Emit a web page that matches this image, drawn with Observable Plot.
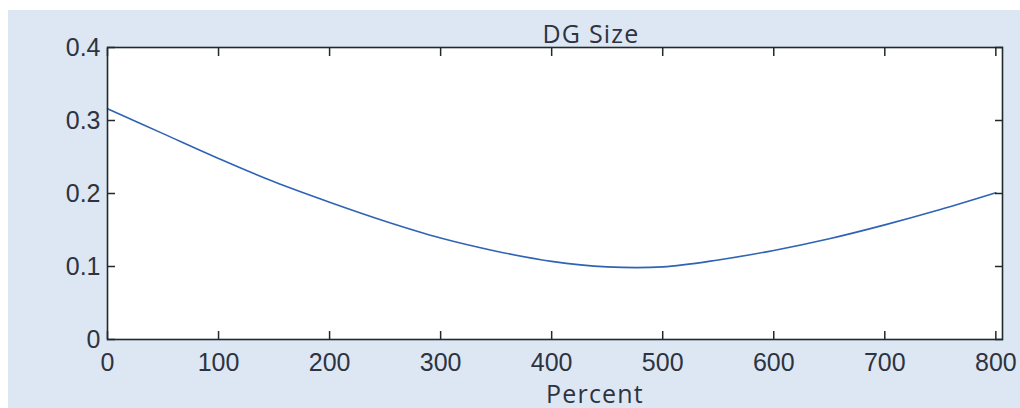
<!DOCTYPE html>
<html><head><meta charset="utf-8">
<script src="https://cdn.jsdelivr.net/npm/d3@7"></script>
<script src="https://cdn.jsdelivr.net/npm/@observablehq/plot@0.6"></script>
<style>
html,body{margin:0;padding:0;background:#fff;}
#chart svg{display:block;}
g.lbl text{letter-spacing:1.2px;}
</style></head><body><div id="chart"></div>
<script>
const percent = [0, 50, 100, 150, 200, 250, 300, 350, 400, 450, 500, 550, 600, 650, 700, 750, 800];
const dgSize  = [0.316, 0.282, 0.248, 0.216, 0.188, 0.162, 0.139, 0.121, 0.107, 0.0995, 0.0995, 0.109, 0.122, 0.138, 0.157, 0.178, 0.201];
const xTicks = [0, 100, 200, 300, 400, 500, 600, 700, 800];
const xTickLabels = ["0", "100", "200", "300", "400", "500", "600", "700", "800"];
const yTicks = [0, 0.1, 0.2, 0.3, 0.4];
const yTickLabels = ["0", "0.1", "0.2", "0.3", "0.4"];
const titleText = ["DG Size"];
const xLabelText = ["Percent"];

const data = percent.map((p, i) => ({percent: p, size: dgSize[i]}));
const ink = "#1f2a2c";
const txt = "#2e3340";

const chart = Plot.plot({
  width: 1020,
  height: 408,
  marginLeft: 107,
  marginRight: 18,
  marginTop: 47,
  marginBottom: 69,
  style: {
    background: "linear-gradient(#fff,#fff) top left/100% 10px no-repeat, linear-gradient(#fff,#fff) top left/8px 100% no-repeat, #dde7f3",
    fontFamily: "'Liberation Sans', Arial, sans-serif",
    fontSize: "25px",
    color: txt
  },
  x: {domain: [0, 806], axis: null},
  y: {domain: [0, 0.4], axis: null},
  marks: [
    Plot.frame({fill: "white", stroke: null}),
    Plot.line(data, {x: "percent", y: "size", stroke: "#2f63b6", strokeWidth: 1.6, curve: "catmull-rom"}),
    Plot.axisX({anchor: "bottom", ticks: xTicks, tickSize: -8, tickPadding: 22, stroke: ink, strokeWidth: 1.5, fill: txt, fontSize: 25,
      tickFormat: d => xTickLabels[xTicks.indexOf(d)], label: null}),
    Plot.axisX({anchor: "top", ticks: xTicks, tickSize: -8, stroke: ink, strokeWidth: 1.5, fill: "none", label: null}),
    Plot.axisY({anchor: "left", ticks: yTicks, tickSize: -8, tickPadding: 15, stroke: ink, strokeWidth: 1.5, fill: txt, fontSize: 25,
      tickFormat: d => yTickLabels[yTicks.findIndex(t => Math.abs(t - d) < 1e-9)], label: null}),
    Plot.axisY({anchor: "right", ticks: yTicks, tickSize: -8, stroke: ink, strokeWidth: 1.5, fill: "none", label: null}),
    Plot.frame({stroke: ink, strokeWidth: 1.6}),
    Plot.text(titleText, {text: d => d, frameAnchor: "top", lineAnchor: "bottom", dx: 36, dy: -5,
      fontFamily: "'Open Sans', sans-serif", fontSize: 25, fill: txt, className: "lbl"}),
    Plot.text(xLabelText, {text: d => d, frameAnchor: "bottom", lineAnchor: "bottom", dx: 40, dy: 63,
      fontFamily: "'Open Sans', sans-serif", fontSize: 25, fill: txt, className: "lbl"})
  ]
});
document.getElementById("chart").append(chart);
</script>
</body></html>
